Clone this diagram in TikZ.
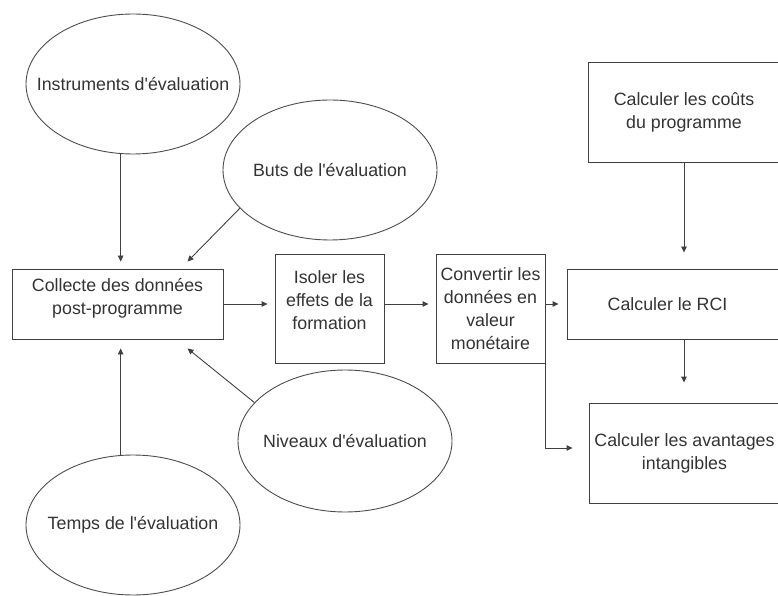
\documentclass[tikz,border=0pt]{standalone}
\usepackage{fontspec}
\setmainfont{Liberation Sans}
\usetikzlibrary{shapes.geometric,arrows.meta,calc}

\begin{document}
\begin{tikzpicture}[
	x=1pt, y=1pt,
	font=\fontsize{17.8}{23}\selectfont,
	bulle/.style={ ellipse, draw=black!70, line width=0.9pt, text=black!80, inner sep=0pt, minimum width=214pt, minimum height=140pt },
	boite/.style={ rectangle, draw=black!75, line width=0.9pt, text=black!80, align=center, inner sep=2pt },
	fleche/.style={ draw=black!75, line width=0.9pt, -{Triangle[length=6pt,width=5.5pt]} }
]

\clip (0,0) rectangle (778,595);

% ellipses
\node at (133,511) (inst) [bulle] {\makebox[0pt]{Instruments d\textquotesingle évaluation}};
\node at (330,425) (buts) [bulle] {\makebox[0pt]{Buts de l\textquotesingle évaluation}};
\node at (345,154) (niv) [bulle, minimum height=142pt] {\makebox[0pt]{Niveaux d\textquotesingle évaluation}};
\node at (133,70) (temps) [bulle] {\makebox[0pt]{Temps de l\textquotesingle évaluation}};

% boxes
\node at (117.5,291) (coll) [boite, minimum width=211pt, minimum height=70pt, text depth=15pt] {Collecte des données\\post-programme};
\node at (329.5,286.5) (iso) [boite, minimum width=109pt, minimum height=109pt, text depth=17pt] {Isoler les\\effets de la\\formation};
\node at (490.5,286.5) (conv) [boite, minimum width=109pt, minimum height=109pt] {Convertir les\\données en\\valeur\\monétaire};
\node at (673.5,291) (rci) [boite, minimum width=213pt, minimum height=70pt] {Calculer le RCI\hspace{12pt}};
\node at (684,483) (couts) [boite, minimum width=192pt, minimum height=100pt] {Calculer les coûts\\du programme};
\node at (684.5,142) (avant) [boite, minimum width=191pt, minimum height=100pt] {Calculer les avantages\\intangibles};

% arrows to the collection box
\draw[fleche] (inst.260) -- ($(inst.260 |- coll.north)+(0,7)$);
\draw[fleche] (buts.203) -- ($(coll.north)+(70,7)$);
\draw[fleche] (temps.100) -- ($(temps.100 |- coll.south)+(0,-9)$);
\draw[fleche] (niv.157) -- ($(coll.south)+(70,-9)$);

% main chain
\draw[fleche] (coll.east) -- ($(coll.east -| iso.west)+(-7,0)$);
\draw[fleche] (iso.east |- coll.east) -- ($(coll.east -| conv.west)+(-7,0)$);
\draw[fleche] (conv.east |- coll.east) -- ($(coll.east -| rci.west)+(-8,0)$);
\draw[fleche] (conv.south east) |- ($(avant.west)+(-16,5)$);
\draw[fleche] (couts.south) -- ($(rci.north -| couts.south)+(0,16)$);
\draw[fleche] (rci.south -| couts.south) -- ($(avant.north -| couts.south)+(0,20)$);

\end{tikzpicture}
\end{document}
